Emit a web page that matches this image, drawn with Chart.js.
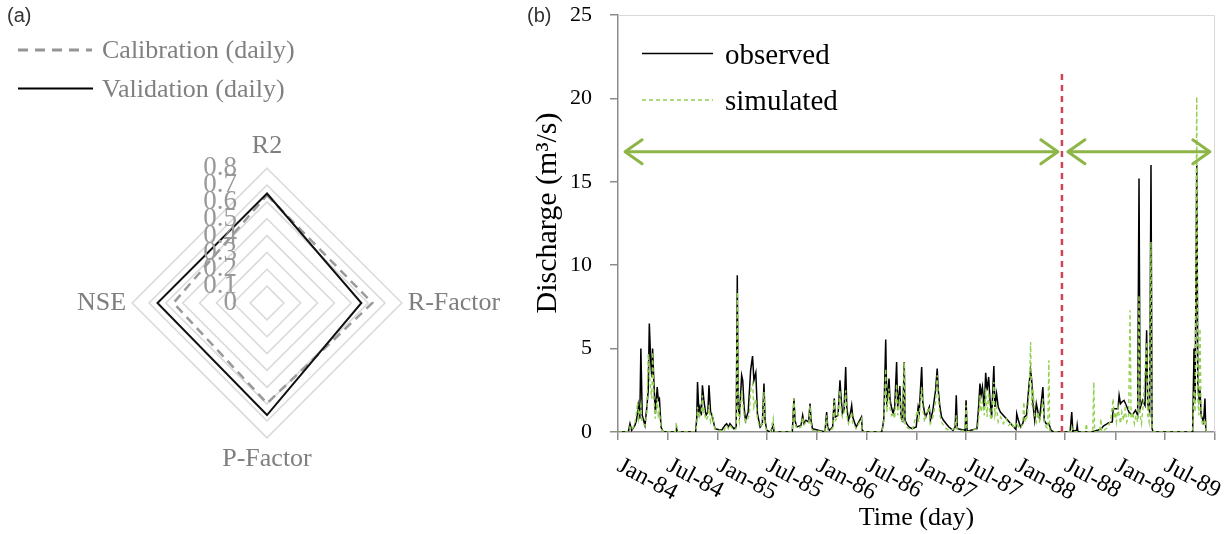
<!DOCTYPE html>
<html>
<head>
<meta charset="utf-8">
<script src="https://cdn.jsdelivr.net/npm/chart.js@4.4.0/dist/chart.umd.min.js"></script>
<style>
html,body{margin:0;padding:0;background:#fff;}
#wrap{position:relative;width:1228px;height:534px;overflow:hidden;background:#fff;}
canvas{position:absolute;top:0;}
#ca{left:0;}
#cb{left:520px;}
</style>
</head>
<body>
<div id="wrap">
<canvas id="ca" width="520" height="534"></canvas>
<canvas id="cb" width="708" height="534"></canvas>
</div>
<script>
// ---------- Panel (a): radar ----------
const radarAxes = ['R2', 'R-Factor', 'P-Factor', 'NSE'];
const calibration = [0.64, 0.625, 0.595, 0.555];
const validation = [0.65, 0.56, 0.665, 0.65];
const radarTicks = ['0', '0.1', '0.2', '0.3', '0.4', '0.5', '0.6', '0.7', '0.8'];
const radarTickValues = [0, 0.1, 0.2, 0.3, 0.4, 0.5, 0.6, 0.7, 0.8];

// ---------- Panel (b): daily discharge ----------
// x = day since 1 Jan 1984, y = discharge (m3/s)
const tickDays = [0, 182, 366, 547, 731, 912, 1096, 1277, 1461, 1642, 1827, 2008, 2192];
const tickLabels = ['Jan-84', 'Jul-84', 'Jan-85', 'Jul-85', 'Jan-86', 'Jul-86', 'Jan-87', 'Jul-87', 'Jan-88', 'Jul-88', 'Jan-89', 'Jul-89'];

const observed = [
[0,0],[38,0],[44,0.5],[50,0.1],[62,0.4],[68,0.7],[75,1.6],[80,0.8],[84,5.0],[89,1.0],[99,0.4],[106,1.5],[111,2.5],[115,6.5],[120,4.3],[124,3.3],[127,5.0],[132,2.9],[137,1.1],[144,2.7],[148,1.9],[152,2.0],[158,0.3],[166,0],
[213,0],[215,0.2],[218,0],
[285,0],[289,0.8],[292,3.0],[297,1.2],[301,1.5],[306,1.0],[310,2.8],[316,1.8],[323,1.0],[330,1.2],[334,2.8],[340,1.2],[347,0.9],[356,0.2],[380,0.1],[393,0.4],[399,0.5],[405,0.3],[411,0.5],[425,0.2],
[434,0.3],[438,9.4],[441,1.5],[446,1.0],[454,3.4],[458,3.1],[463,1.5],[468,0.7],[478,1.2],[487,3.7],[494,4.55],[499,3.1],[506,3.55],[512,1.1],[518,0.6],[522,0.3],[530,0.5],[536,2.9],[540,0.7],[546,0.1],[560,0],[570,0.4],[573,0],
[640,0],[646,2.0],[650,0.7],[656,0.3],[672,0.4],[678,1.0],[683,0.5],[690,0.7],[700,0.6],[705,1.7],[709,0.7],[714,0.2],[760,0],[766,1.2],[770,0.3],[776,0.1],
[788,0.3],[794,2.0],[798,0.9],[808,1.0],[815,3.1],[819,2.1],[824,1.1],[830,1.3],[836,3.9],[840,1.5],[846,0.7],[852,1.0],[858,1.6],[862,0.9],[866,0.7],[874,0.3],[894,0.9],[897,0.1],[905,0],
[968,0],[972,0.3],[976,0.8],[983,5.55],[987,1.5],[995,3.2],[999,1.9],[1004,1.5],[1010,1.1],[1016,1.5],[1023,4.2],[1027,1.5],[1035,2.75],[1039,0.9],[1045,0.7],[1051,4.2],[1054,0.7],[1060,0.5],[1068,0.3],[1080,0.2],[1095,0.3],
[1102,1.5],[1106,1.2],[1115,3.9],[1119,1.8],[1125,1.2],[1130,0.9],[1143,1.5],[1147,0.7],[1155,1.2],[1166,2.5],[1172,3.8],[1176,2.5],[1182,1.5],[1188,0.9],[1195,0.7],[1205,0.5],[1215,0.3],[1230,0.1],[1238,0.3],[1242,2.2],[1246,0.2],[1275,0.1],[1278,1.9],[1282,0.05],
[1318,0.2],[1324,1.5],[1329,2.9],[1333,2.2],[1338,2.7],[1345,1.4],[1350,3.55],[1355,2.5],[1361,3.3],[1366,1.9],[1372,0.9],[1380,3.95],[1384,1.5],[1390,2.3],[1396,1.5],[1404,1.2],[1461,0.15],[1464,1.1],[1470,0.7],[1478,0.3],[1486,0.5],[1492,0.9],[1500,1.0],[1510,3.0],[1515,3.7],[1519,3.1],[1524,1.6],[1530,0.7],[1536,1.7],[1542,1.2],[1548,0.8],[1560,2.7],[1565,0.7],[1572,0.5],[1582,0.5],[1590,0.1],[1600,0],
[1660,0],[1666,1.2],[1670,0.05],[1684,0.1],[1686,0.4],[1689,0],[1740,0],[1760,0.1],[1775,0.2],[1782,0.35],[1792,0.45],[1800,0.55],[1815,0.6],[1818,1.4],[1836,1.4],[1840,2.2],[1845,1.7],[1850,1.8],[1858,1.9],[1866,1.6],[1876,1.2],[1888,1.0],[1900,1.3],[1908,1.0],[1913,15.2],[1917,1.4],[1926,1.9],[1935,1.6],[1941,6.1],[1945,1.7],[1952,1.2],[1957,16.0],[1961,0.2],[1965,0],
[2110,0],[2115,5.0],[2119,1.9],[2125,16.0],[2129,2.9],[2133,2.0],[2137,2.5],[2141,1.0],[2150,0.6],[2155,2.0],[2158,0.3],[2160,0]
];

const simulated = [
[0,0],[40,0],[44,0.3],[50,0.1],[62,0.5],[68,1.2],[72,1.8],[76,0.8],[84,1.6],[88,0.6],[99,0.4],[106,1.2],[111,4.7],[115,3.5],[120,2.5],[124,2.0],[127,4.8],[132,2.0],[137,0.8],[144,2.0],[148,1.0],[152,1.3],[158,0.2],[166,0],
[210,0],[215,0.4],[220,0],
[285,0],[289,0.4],[292,1.5],[297,0.8],[301,1.0],[306,1.3],[310,2.2],[313,1.1],[316,1.3],[323,0.7],[330,0.9],[334,1.6],[340,0.6],[347,1.0],[356,0.2],[390,0],[393,0.3],[399,0.4],[405,0.2],[411,0.4],[425,0.1],
[434,0.2],[438,8.4],[441,1.2],[446,0.6],[454,2.5],[458,1.8],[463,1.0],[470,0.6],[482,1.0],[487,2.5],[494,2.9],[499,1.5],[506,2.0],[512,0.8],[520,0.3],[530,0.5],[536,2.4],[540,0.4],[546,0.1],[560,0],[570,0.8],[573,0],
[640,0],[646,2.0],[650,0.6],[656,0.2],[672,0.3],[678,0.9],[683,0.4],[690,0.6],[700,0.5],[705,1.6],[709,0.5],[714,0.1],[760,0],[766,1.0],[770,0.1],
[788,0.2],[794,1.9],[798,0.7],[808,0.9],[815,2.5],[819,1.4],[824,0.9],[830,1.2],[836,2.5],[840,1.0],[846,0.5],[852,0.8],[858,1.2],[862,0.5],[868,0.4],[874,0.2],[894,0.8],[897,0],
[968,0],[972,0.2],[976,0.6],[983,3.8],[987,1.2],[995,2.6],[999,1.4],[1004,1.0],[1010,1.2],[1016,0.8],[1023,2.9],[1027,1.0],[1035,2.2],[1039,0.6],[1045,0.7],[1051,4.2],[1054,0.4],[1060,0.3],[1068,0.2],[1080,0.1],
[1100,1.3],[1104,0.6],[1115,2.7],[1119,1.5],[1125,0.6],[1130,1.0],[1143,1.5],[1147,0.5],[1155,0.8],[1160,1.2],[1166,1.8],[1172,3.4],[1176,2.2],[1182,1.0],[1188,0.6],[1195,0.4],[1205,0.2],[1215,0.1],[1238,0.2],[1242,1.0],[1246,0.1],[1275,0.1],[1278,1.6],[1282,0],
[1320,0.2],[1325,1.0],[1329,2.2],[1333,1.2],[1338,1.8],[1345,1.0],[1350,2.6],[1355,0.9],[1361,2.4],[1366,1.0],[1372,0.7],[1380,3.0],[1384,1.0],[1390,1.5],[1396,0.6],[1405,0.9],[1415,0.5],[1425,0.8],[1435,0.4],[1445,0.6],[1455,0.2],[1464,0.6],[1470,0.3],[1478,0.2],[1486,0.5],[1490,1.8],[1495,0.6],[1503,1.0],[1510,2.4],[1515,5.4],[1519,1.6],[1524,2.6],[1530,1.0],[1536,0.6],[1542,1.2],[1548,0.7],[1555,1.2],[1560,2.0],[1565,0.6],[1572,0.3],[1578,0.2],[1582,4.3],[1585,0.1],[1600,0],
[1660,0],[1666,0.3],[1670,0],[1715,0],[1720,0.5],[1723,0],[1743,0],[1747,3.0],[1750,0],[1768,0],[1773,0.8],[1776,0],[1800,0.3],[1810,0.8],[1818,2.0],[1822,0.8],[1826,1.2],[1830,0.6],[1836,1.5],[1840,1.0],[1845,0.5],[1850,1.2],[1856,0.7],[1862,1.4],[1868,0.6],[1875,1.0],[1880,7.3],[1884,0.8],[1890,1.2],[1896,0.5],[1902,1.0],[1908,0.6],[1913,8.2],[1917,1.0],[1922,0.5],[1928,1.5],[1935,3.5],[1941,5.4],[1945,1.0],[1950,0.6],[1957,11.4],[1961,0.3],[1965,0],
[2110,0],[2115,2.5],[2119,1.2],[2125,20.1],[2129,2.0],[2133,1.0],[2137,6.2],[2141,0.8],[2147,0.4],[2155,0.8],[2160,0]
];

// Calibration / validation split and period arrows
const splitDay = 1630;
const splitTop = 21.6;
const arrowLevel = 16.8;
const calPeriod = [26, 1615];
const valPeriod = [1652, 2173];

const SERIF = '"Liberation Serif", "Times New Roman", serif';
const SANS = '"Liberation Sans", Arial, sans-serif';
const arrowColor = '#8db548';
const splitColor = '#cc4455';
const simColor = '#92D050';

// ---------- Plugin for panel (a) ----------
const panelA = {
  id: 'panelA',
  afterDraw(chart) {
    const ctx = chart.ctx;
    const r = chart.scales.r;
    ctx.save();
    ctx.font = '27px ' + SERIF;
    ctx.fillStyle = '#999999';
    ctx.textAlign = 'right';
    ctx.textBaseline = 'middle';
    radarTickValues.forEach((v, i) => {
      const d = r.getDistanceFromCenterForValue(v);
      ctx.fillText(radarTicks[i], r.xCenter - 30, r.yCenter - d);
    });
    ctx.lineWidth = 3;
    ctx.strokeStyle = '#959595';
    ctx.setLineDash([10, 7]);
    ctx.beginPath(); ctx.moveTo(18, 50); ctx.lineTo(92, 50); ctx.stroke();
    ctx.setLineDash([]);
    ctx.lineWidth = 2.2;
    ctx.strokeStyle = '#000';
    ctx.beginPath(); ctx.moveTo(18, 88.5); ctx.lineTo(93, 88.5); ctx.stroke();
    ctx.font = '26px ' + SERIF;
    ctx.fillStyle = '#808080';
    ctx.textAlign = 'left';
    ctx.textBaseline = 'alphabetic';
    ctx.fillText(chart.data.datasets[1].label, 102, 58);
    ctx.fillText(chart.data.datasets[0].label, 102, 97);
    ctx.font = '20px ' + SANS;
    ctx.fillStyle = '#333';
    ctx.fillText('(a)', 7, 22);
    ctx.restore();
  }
};

new Chart(document.getElementById('ca'), {
  type: 'radar',
  data: {
    labels: radarAxes,
    datasets: [
      { label: 'Validation (daily)', data: validation, borderColor: '#111', borderWidth: 2, fill: false, pointRadius: 0, order: 1 },
      { label: 'Calibration (daily)', data: calibration, borderColor: '#9a9a9a', borderWidth: 2.5, borderDash: [9, 6], fill: false, pointRadius: 0, order: 2 }
    ]
  },
  options: {
    responsive: false,
    animation: false,
    devicePixelRatio: 1,
    layout: { padding: { left: 51, right: 0, top: 131, bottom: 58 } },
    plugins: { legend: { display: false }, tooltip: { enabled: false } },
    elements: { line: { tension: 0 } },
    scales: {
      r: {
        min: 0, max: 0.8,
        ticks: { display: false, stepSize: 0.1 },
        grid: { color: '#dadada', lineWidth: 1.6 },
        angleLines: { display: false },
        pointLabels: { font: { family: SERIF, size: 26 }, color: '#7f7f7f', padding: 6 }
      }
    }
  },
  plugins: [panelA]
});

// ---------- Plugin for panel (b) ----------
const panelB = {
  id: 'panelB',
  beforeDatasetsDraw(chart) {
    const { ctx, chartArea: a } = chart;
    ctx.save();
    ctx.strokeStyle = '#d9d9d9';
    ctx.lineWidth = 1;
    ctx.beginPath();
    ctx.moveTo(a.left, a.top + 0.5);
    ctx.lineTo(a.right - 0.5, a.top + 0.5);
    ctx.lineTo(a.right - 0.5, a.bottom);
    ctx.stroke();
    ctx.restore();
  },
  afterDatasetsDraw(chart) {
    const ctx = chart.ctx, xs = chart.scales.x, ys = chart.scales.y;
    ctx.save();
    ctx.strokeStyle = arrowColor;
    ctx.lineWidth = 3;
    ctx.lineCap = 'round';
    ctx.lineJoin = 'round';
    [calPeriod, valPeriod].forEach(p => {
      const y = ys.getPixelForValue(arrowLevel);
      const x1 = xs.getPixelForValue(p[0]);
      const x2 = xs.getPixelForValue(p[1]);
      ctx.beginPath();
      ctx.moveTo(x1 + 17, y - 12); ctx.lineTo(x1, y); ctx.lineTo(x1 + 17, y + 12);
      ctx.moveTo(x2 - 17, y - 12); ctx.lineTo(x2, y); ctx.lineTo(x2 - 17, y + 12);
      ctx.stroke();
    });
    ctx.restore();
  },
  afterDraw(chart) {
    const ctx = chart.ctx, xs = chart.scales.x, a = chart.chartArea;
    ctx.save();
    ctx.font = '24px ' + SERIF;
    ctx.fillStyle = '#000';
    ctx.textAlign = 'left';
    ctx.textBaseline = 'alphabetic';
    const ang = 28 * Math.PI / 180;
    tickLabels.forEach((lab, i) => {
      const x = xs.getPixelForValue(tickDays[i]);
      ctx.save();
      ctx.translate(x - 2, a.bottom + 38);
      ctx.rotate(ang);
      ctx.fillText(lab, 0, 0);
      ctx.restore();
    });
    ctx.save();
    ctx.translate(28, 213);
    ctx.rotate(-Math.PI / 2);
    ctx.font = '30px ' + SERIF;
    ctx.textAlign = 'center';
    ctx.textBaseline = 'middle';
    ctx.fillText('Discharge (m³/s)', 0, 0);
    ctx.restore();
    ctx.lineWidth = 1.4;
    ctx.strokeStyle = '#000';
    ctx.beginPath(); ctx.moveTo(122, 53.5); ctx.lineTo(193, 53.5); ctx.stroke();
    ctx.strokeStyle = simColor;
    ctx.setLineDash([4, 3]);
    ctx.beginPath(); ctx.moveTo(122, 100); ctx.lineTo(193, 100); ctx.stroke();
    ctx.setLineDash([]);
    ctx.font = '29px ' + SERIF;
    ctx.fillStyle = '#000';
    ctx.textAlign = 'left';
    ctx.fillText(chart.data.datasets[0].label, 205, 64);
    ctx.fillText(chart.data.datasets[1].label, 205, 110);
    ctx.font = '20px ' + SANS;
    ctx.fillStyle = '#333';
    ctx.fillText('(b)', 7, 22);
    ctx.restore();
  }
};

const toXY = arr => arr.map(p => ({ x: p[0], y: p[1] }));

new Chart(document.getElementById('cb'), {
  type: 'line',
  data: {
    datasets: [
      { label: 'observed', data: toXY(observed), borderColor: '#000', borderWidth: 1.5, pointRadius: 0, tension: 0, order: 4 },
      { label: 'simulated', data: toXY(simulated), borderColor: simColor, borderWidth: 1.4, borderDash: [4, 3], pointRadius: 0, tension: 0, order: 3 },
      { label: 'split', data: [{ x: splitDay, y: 0 }, { x: splitDay, y: splitTop }], borderColor: splitColor, borderWidth: 2.5, borderDash: [6, 5], pointRadius: 0, order: 2 },
      { label: 'calibration period', data: [{ x: calPeriod[0], y: arrowLevel }, { x: calPeriod[1], y: arrowLevel }], borderColor: arrowColor, borderWidth: 3, pointRadius: 0, order: 1 },
      { label: 'validation period', data: [{ x: valPeriod[0], y: arrowLevel }, { x: valPeriod[1], y: arrowLevel }], borderColor: arrowColor, borderWidth: 3, pointRadius: 0, order: 1 }
    ]
  },
  options: {
    responsive: false,
    animation: false,
    devicePixelRatio: 1,
    layout: { padding: { top: 15, right: 13, left: 0, bottom: 0 } },
    plugins: { legend: { display: false }, tooltip: { enabled: false } },
    scales: {
      x: {
        type: 'linear', min: 0, max: 2192,
        afterBuildTicks: s => { s.ticks = tickDays.map(v => ({ value: v })); },
        afterFit: s => { s.height = 102; s.paddingLeft = 0; s.paddingRight = 0; },
        ticks: { display: false },
        grid: { drawOnChartArea: false, drawTicks: true, tickLength: 8, color: '#8c8c8c', lineWidth: 1.5 },
        border: { color: '#8c8c8c', width: 1.5 },
        title: { display: true, text: 'Time (day)', font: { family: SERIF, size: 26 }, color: '#000', padding: { top: 0, bottom: 0 } }
      },
      y: {
        min: 0, max: 25,
        ticks: { stepSize: 5, font: { family: SERIF, size: 22 }, color: '#000', padding: 18 },
        afterFit: s => { s.width = 98; s.paddingTop = 0; s.paddingBottom = 0; },
        grid: { drawOnChartArea: false, drawTicks: true, tickLength: 8, color: '#8c8c8c', lineWidth: 1.5 },
        border: { color: '#8c8c8c', width: 1.5 }
      }
    }
  },
  plugins: [panelB]
});
</script>
</body>
</html>
